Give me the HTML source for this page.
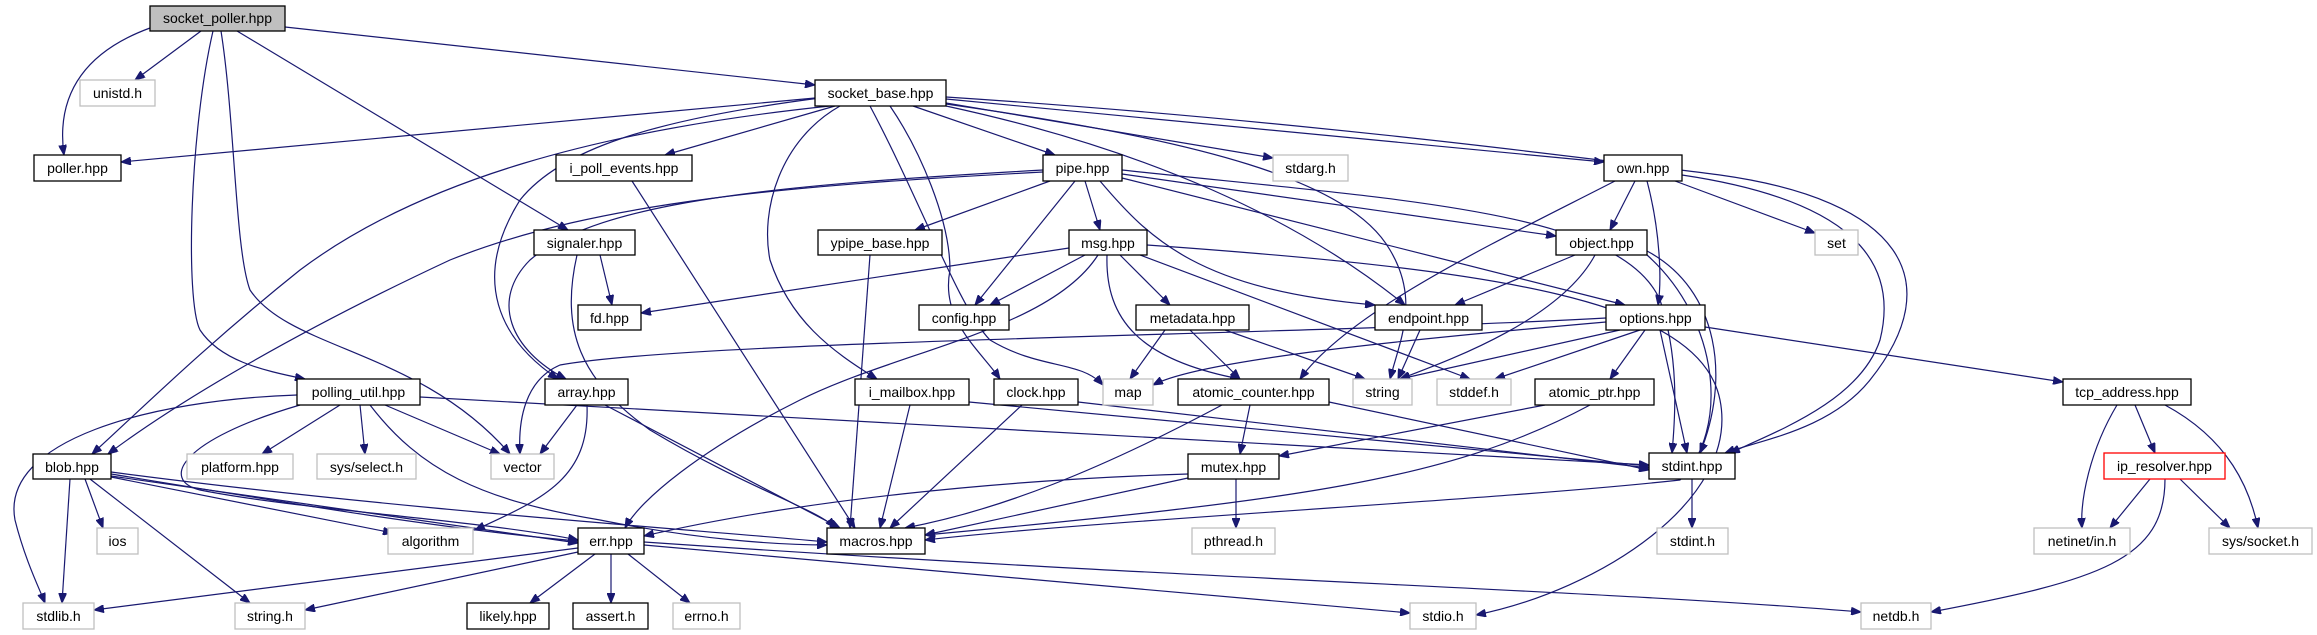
<!DOCTYPE html>
<html><head><meta charset="utf-8"><style>
html,body{margin:0;padding:0;background:#fff;}
svg{display:block;}
text{font-family:"Liberation Sans",sans-serif;font-size:14px;fill:#000;}
.n rect{fill:#fff;stroke:#000;stroke-width:1.3;}
.g rect{fill:#fff;stroke:#bfbfbf;stroke-width:1.3;}
path{fill:none;stroke:#191970;stroke-width:1.2;}
</style></head><body>
<svg width="2317" height="635" viewBox="0 0 2317 635" xmlns="http://www.w3.org/2000/svg">
<defs><marker id="a" markerUnits="userSpaceOnUse" markerWidth="11" markerHeight="8" refX="10" refY="4" orient="auto"><polygon points="0,0 10,4 0,8" fill="#191970" stroke="#191970"/></marker></defs>
<g marker-end="url(#a)">
<path d="M150,28 C90,50 55,90 64,155"/>
<path d="M201,31 L135,80"/>
<path d="M285,27 L815,85"/>
<path d="M237,31 L568,230"/>
<path d="M213,31 C190,130 185,300 200,330 C220,360 260,370 305,379"/>
<path d="M221,31 C235,120 235,250 250,290 C290,350 420,350 510,454"/>
<path d="M815,98 L121,162"/>
<path d="M835,106 L665,155"/>
<path d="M913,106 L1055,155"/>
<path d="M946,103 L1273,158"/>
<path d="M946,99 L1604,162"/>
<path d="M946,97 C1300,120 1600,160 1720,175 C1900,200 1950,280 1870,380 C1830,430 1760,440 1725,453"/>
<path d="M830,106 C600,130 420,180 300,270 C200,350 130,420 92,454"/>
<path d="M1043,172 C800,185 600,200 450,260 C300,330 180,400 108,454"/>
<path d="M820,98 C650,120 560,150 520,200 C470,280 500,340 558,379"/>
<path d="M1043,170 C780,185 600,200 530,260 C490,300 510,350 566,379"/>
<path d="M840,106 C780,140 760,210 770,260 C790,320 830,350 877,379"/>
<path d="M890,106 C920,150 950,220 950,270 C940,320 980,350 1000,379"/>
<path d="M870,106 C920,200 960,310 990,340 C1040,370 1080,360 1103,385"/>
<path d="M946,106 C1150,150 1300,220 1405,305"/>
<path d="M946,104 C1200,140 1350,180 1390,250 C1420,300 1400,340 1390,379"/>
<path d="M1050,181 L915,230"/>
<path d="M1085,181 L1100,230"/>
<path d="M1075,181 L975,305"/>
<path d="M1100,181 C1150,240 1200,290 1375,305"/>
<path d="M1122,174 L1556,236"/>
<path d="M1122,178 L1625,305"/>
<path d="M1122,170 C1400,200 1620,210 1660,300 C1680,360 1675,420 1672,453"/>
<path d="M1635,181 L1610,230"/>
<path d="M1675,181 L1815,233"/>
<path d="M1647,181 C1660,230 1662,280 1658,305"/>
<path d="M1615,181 C1500,240 1350,310 1300,379"/>
<path d="M1682,175 C1850,200 1900,260 1880,340 C1860,400 1780,430 1730,453"/>
<path d="M1575,255 L1455,305"/>
<path d="M1595,255 C1560,320 1450,360 1400,379"/>
<path d="M1647,251 C1720,290 1730,380 1700,453"/>
<path d="M1647,255 C1720,320 1730,430 1680,480 C1500,500 1100,520 925,540"/>
<path d="M1069,248 L641,313"/>
<path d="M1085,255 L990,305"/>
<path d="M1120,255 L1170,305"/>
<path d="M1107,255 C1105,320 1140,360 1240,379"/>
<path d="M1140,255 L1470,379"/>
<path d="M1098,255 C1050,330 900,350 800,400 C700,450 640,500 625,528"/>
<path d="M1147,245 C1500,270 1700,300 1720,400 C1740,500 1600,590 1476,615"/>
<path d="M1165,330 L1130,379"/>
<path d="M1190,330 L1240,379"/>
<path d="M1225,330 L1365,379"/>
<path d="M1420,330 L1398,379"/>
<path d="M1606,322 C1400,340 1200,360 1153,385"/>
<path d="M1606,318 C1300,335 700,340 560,365 C525,380 518,420 520,454"/>
<path d="M1620,330 L1400,379"/>
<path d="M1640,330 L1495,379"/>
<path d="M1645,330 L1610,379"/>
<path d="M1660,330 L1687,453"/>
<path d="M1705,327 L2063,382"/>
<path d="M2117,405 C2090,450 2080,500 2082,528"/>
<path d="M2135,405 L2155,453"/>
<path d="M2165,405 C2230,440 2250,490 2258,528"/>
<path d="M2150,479 L2110,528"/>
<path d="M2180,479 L2230,528"/>
<path d="M2165,479 C2165,560 2100,580 1931,612"/>
<path d="M600,255 L612,305"/>
<path d="M577,255 C560,330 580,380 650,430 C750,490 820,510 835,528"/>
<path d="M870,255 L850,528"/>
<path d="M632,181 L855,528"/>
<path d="M297,395 C150,400 0,440 15,520 C25,560 40,590 45,603"/>
<path d="M340,405 L262,454"/>
<path d="M360,405 L365,454"/>
<path d="M385,405 L500,454"/>
<path d="M300,405 C180,440 160,480 200,490 C300,510 480,520 578,540"/>
<path d="M370,405 C420,470 480,500 600,520 C700,540 780,545 827,545"/>
<path d="M420,397 L1649,465"/>
<path d="M577,405 L540,454"/>
<path d="M587,405 C590,480 540,500 475,530"/>
<path d="M605,405 L840,528"/>
<path d="M910,405 L880,528"/>
<path d="M969,402 L1649,466"/>
<path d="M1022,405 L890,528"/>
<path d="M1078,402 L1649,468"/>
<path d="M1250,405 L1240,454"/>
<path d="M1222,405 C1100,470 1000,510 905,528"/>
<path d="M1329,402 L1649,470"/>
<path d="M1545,405 L1279,456"/>
<path d="M1590,405 C1450,480 1300,500 925,535"/>
<path d="M1188,474 C1000,480 800,500 644,536"/>
<path d="M1188,478 L925,535"/>
<path d="M1236,479 L1236,528"/>
<path d="M70,479 L62,603"/>
<path d="M85,479 L103,528"/>
<path d="M90,479 L250,603"/>
<path d="M111,477 L393,533"/>
<path d="M111,474 C300,505 450,530 578,541"/>
<path d="M111,476 L578,543"/>
<path d="M111,472 C400,510 700,530 827,542"/>
<path d="M578,548 L94,610"/>
<path d="M578,552 L305,610"/>
<path d="M595,554 L530,603"/>
<path d="M611,554 L611,603"/>
<path d="M628,554 L690,603"/>
<path d="M644,545 L1410,613"/>
<path d="M644,542 C1200,580 1600,590 1861,612"/>
<path d="M1692,479 L1692,528"/>
</g>
<g text-anchor="middle">
<g class="n"><rect x="150" y="6" width="135" height="25" style="fill:#bfbfbf"/><text x="217.5" y="23">socket_poller.hpp</text></g>
<g class="g"><rect x="80" y="80" width="75" height="26"/><text x="117.5" y="98">unistd.h</text></g>
<g class="n"><rect x="815" y="80" width="131" height="26"/><text x="880.5" y="98">socket_base.hpp</text></g>
<g class="n"><rect x="34" y="155" width="87" height="26"/><text x="77.5" y="173">poller.hpp</text></g>
<g class="n"><rect x="556" y="155" width="136" height="26"/><text x="624" y="173">i_poll_events.hpp</text></g>
<g class="n"><rect x="1043" y="155" width="79" height="26"/><text x="1082.5" y="173">pipe.hpp</text></g>
<g class="g"><rect x="1273" y="155" width="75" height="26"/><text x="1310.5" y="173">stdarg.h</text></g>
<g class="n"><rect x="1604" y="155" width="78" height="26"/><text x="1643" y="173">own.hpp</text></g>
<g class="n"><rect x="534" y="230" width="101" height="25"/><text x="584.5" y="248">signaler.hpp</text></g>
<g class="n"><rect x="818" y="230" width="124" height="25"/><text x="880" y="248">ypipe_base.hpp</text></g>
<g class="n"><rect x="1069" y="230" width="78" height="25"/><text x="1108" y="248">msg.hpp</text></g>
<g class="n"><rect x="1556" y="230" width="91" height="25"/><text x="1601.5" y="248">object.hpp</text></g>
<g class="g"><rect x="1815" y="230" width="43" height="25"/><text x="1836.5" y="248">set</text></g>
<g class="n"><rect x="578" y="305" width="63" height="25"/><text x="609.5" y="323">fd.hpp</text></g>
<g class="n"><rect x="919" y="305" width="90" height="25"/><text x="964" y="323">config.hpp</text></g>
<g class="n"><rect x="1136" y="305" width="113" height="25"/><text x="1192.5" y="323">metadata.hpp</text></g>
<g class="n"><rect x="1375" y="305" width="107" height="25"/><text x="1428.5" y="323">endpoint.hpp</text></g>
<g class="n"><rect x="1606" y="305" width="99" height="25"/><text x="1655.5" y="323">options.hpp</text></g>
<g class="n"><rect x="297" y="379" width="123" height="26"/><text x="358.5" y="397">polling_util.hpp</text></g>
<g class="n"><rect x="545" y="379" width="83" height="26"/><text x="586.5" y="397">array.hpp</text></g>
<g class="n"><rect x="855" y="379" width="114" height="26"/><text x="912" y="397">i_mailbox.hpp</text></g>
<g class="n"><rect x="994" y="379" width="84" height="26"/><text x="1036" y="397">clock.hpp</text></g>
<g class="g"><rect x="1103" y="379" width="50" height="26"/><text x="1128" y="397">map</text></g>
<g class="n"><rect x="1178" y="379" width="151" height="26"/><text x="1253.5" y="397">atomic_counter.hpp</text></g>
<g class="g"><rect x="1353" y="379" width="59" height="26"/><text x="1382.5" y="397">string</text></g>
<g class="g"><rect x="1437" y="379" width="74" height="26"/><text x="1474" y="397">stddef.h</text></g>
<g class="n"><rect x="1535" y="379" width="119" height="26"/><text x="1594.5" y="397">atomic_ptr.hpp</text></g>
<g class="n"><rect x="2063" y="379" width="128" height="26"/><text x="2127" y="397">tcp_address.hpp</text></g>
<g class="n"><rect x="33" y="454" width="78" height="25"/><text x="72" y="472">blob.hpp</text></g>
<g class="g"><rect x="187" y="454" width="106" height="25"/><text x="240" y="472">platform.hpp</text></g>
<g class="g"><rect x="317" y="454" width="99" height="25"/><text x="366.5" y="472">sys/select.h</text></g>
<g class="g"><rect x="491" y="454" width="63" height="25"/><text x="522.5" y="472">vector</text></g>
<g class="n"><rect x="1188" y="454" width="91" height="25"/><text x="1233.5" y="472">mutex.hpp</text></g>
<g class="n"><rect x="1649" y="453" width="86" height="26"/><text x="1692" y="471">stdint.hpp</text></g>
<g class="n"><rect x="2104" y="453" width="121" height="26" style="stroke:#ff0000"/><text x="2164.5" y="471">ip_resolver.hpp</text></g>
<g class="g"><rect x="97" y="528" width="41" height="26"/><text x="117.5" y="546">ios</text></g>
<g class="g"><rect x="388" y="528" width="85" height="26"/><text x="430.5" y="546">algorithm</text></g>
<g class="n"><rect x="578" y="528" width="66" height="26"/><text x="611" y="546">err.hpp</text></g>
<g class="n"><rect x="827" y="528" width="98" height="26"/><text x="876" y="546">macros.hpp</text></g>
<g class="g"><rect x="1192" y="528" width="83" height="26"/><text x="1233.5" y="546">pthread.h</text></g>
<g class="g"><rect x="1657" y="528" width="71" height="26"/><text x="1692.5" y="546">stdint.h</text></g>
<g class="g"><rect x="2034" y="528" width="96" height="26"/><text x="2082" y="546">netinet/in.h</text></g>
<g class="g"><rect x="2209" y="528" width="103" height="26"/><text x="2260.5" y="546">sys/socket.h</text></g>
<g class="g"><rect x="23" y="603" width="71" height="26"/><text x="58.5" y="621">stdlib.h</text></g>
<g class="g"><rect x="235" y="603" width="70" height="26"/><text x="270" y="621">string.h</text></g>
<g class="n"><rect x="467" y="603" width="82" height="26"/><text x="508" y="621">likely.hpp</text></g>
<g class="n"><rect x="573" y="603" width="75" height="26"/><text x="610.5" y="621">assert.h</text></g>
<g class="g"><rect x="673" y="603" width="67" height="26"/><text x="706.5" y="621">errno.h</text></g>
<g class="g"><rect x="1410" y="603" width="66" height="26"/><text x="1443" y="621">stdio.h</text></g>
<g class="g"><rect x="1861" y="603" width="70" height="26"/><text x="1896" y="621">netdb.h</text></g>
</g>
</svg>
</body></html>
